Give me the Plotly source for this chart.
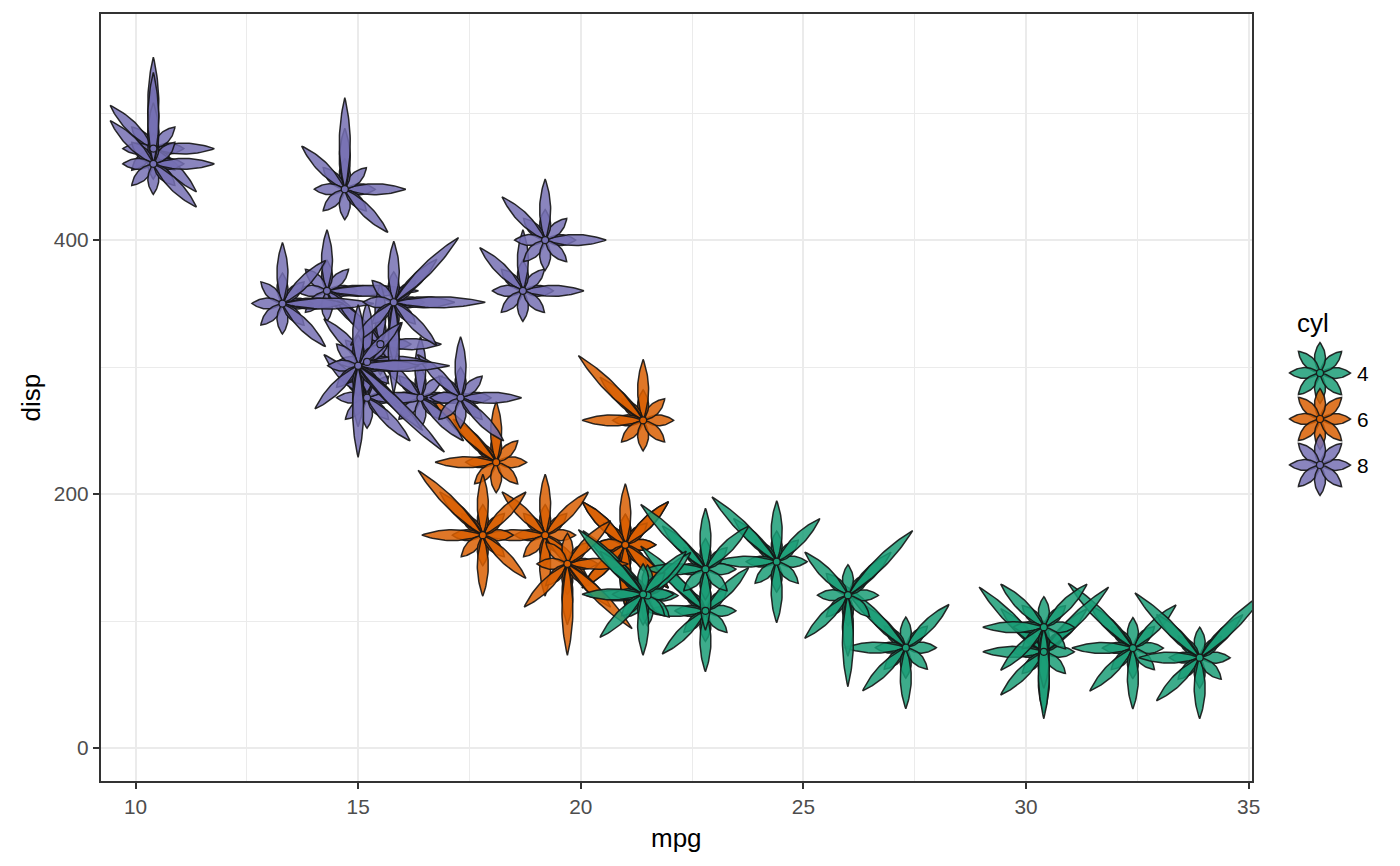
import numpy as np
import plotly.graph_objects as go

# mtcars: position of each glyph
cars = ["Mazda RX4", "Mazda RX4 Wag", "Datsun 710", "Hornet 4 Drive", "Hornet Sportabout",
        "Valiant", "Duster 360", "Merc 240D", "Merc 230", "Merc 280", "Merc 280C",
        "Merc 450SE", "Merc 450SL", "Merc 450SLC", "Cadillac Fleetwood",
        "Lincoln Continental", "Chrysler Imperial", "Fiat 128", "Honda Civic",
        "Toyota Corolla", "Toyota Corona", "Dodge Challenger", "AMC Javelin",
        "Camaro Z28", "Pontiac Firebird", "Fiat X1-9", "Porsche 914-2", "Lotus Europa",
        "Ford Pantera L", "Ferrari Dino", "Maserati Bora", "Volvo 142E"]
mpg = [21.0, 21.0, 22.8, 21.4, 18.7, 18.1, 14.3, 24.4, 22.8, 19.2, 17.8, 16.4, 17.3, 15.2,
       10.4, 10.4, 14.7, 32.4, 30.4, 33.9, 21.5, 15.5, 15.2, 13.3, 19.2, 27.3, 26.0, 30.4,
       15.8, 19.7, 15.0, 21.4]
disp = [160.0, 160.0, 108.0, 258.0, 360.0, 225.0, 360.0, 146.7, 140.8, 167.6, 167.6,
        275.8, 275.8, 275.8, 472.0, 460.0, 440.0, 78.7, 75.7, 71.1, 120.1, 318.0, 304.0,
        350.0, 400.0, 79.0, 120.3, 95.1, 351.0, 145.0, 301.0, 121.0]
cyl = [6, 6, 4, 6, 8, 6, 8, 4, 4, 6, 6, 8, 8, 8, 8, 8, 8, 4, 4, 4, 4, 8, 8, 8, 8, 4, 4, 4,
       8, 6, 8, 4]

# petal sizes (number of stacked leaves) read off the glyphs,
# counter-clockwise starting from the right: hp, drat, wt, qsec, vs, am, gear, carb
hp_n = [1, 1, 1, 1, 2, 1, 3, 1, 1, 1, 1, 2, 2, 2, 2, 2, 2, 1, 1, 1, 1, 2, 2, 3, 2, 1, 1, 1, 3, 2, 3, 1]
drat_n = [2, 2, 2, 1, 1, 1, 1, 2, 2, 2, 2, 1, 1, 1, 1, 1, 1, 2, 3, 3, 2, 1, 1, 2, 1, 2, 3, 2, 3, 2, 2, 2]
wt_n = [1, 2, 1, 2, 2, 2, 2, 2, 2, 2, 2, 2, 2, 2, 3, 3, 3, 1, 1, 1, 1, 2, 2, 2, 2, 1, 1, 1, 2, 1, 2, 1]
qsec_n = [2, 2, 3, 3, 2, 3, 1, 3, 3, 2, 3, 2, 2, 2, 2, 2, 2, 3, 3, 3, 3, 2, 2, 1, 2, 3, 2, 2, 1, 1, 1, 3]
vs_n = [1, 1, 2, 2, 1, 2, 1, 2, 2, 2, 2, 1, 1, 1, 1, 1, 1, 2, 2, 2, 2, 1, 1, 1, 1, 2, 1, 2, 1, 1, 1, 2]
am_n = [2, 2, 2, 1, 1, 1, 1, 1, 1, 1, 1, 1, 1, 1, 1, 1, 1, 2, 2, 2, 1, 1, 1, 1, 1, 2, 2, 2, 2, 2, 2, 2]
gear_n = [2, 2, 2, 1, 1, 1, 1, 2, 2, 2, 2, 1, 1, 1, 1, 1, 1, 2, 2, 2, 1, 1, 1, 1, 1, 2, 3, 3, 3, 3, 3, 2]
carb_n = [2, 2, 1, 1, 1, 1, 2, 1, 1, 2, 2, 2, 2, 2, 2, 2, 2, 1, 1, 1, 1, 1, 1, 2, 1, 1, 1, 1, 2, 3, 4, 1]

cyl_levels = [4, 6, 8]
cyl_colors = {4: (27, 158, 119), 6: (217, 95, 2), 8: (117, 112, 179)}

# layout, in page pixels (the page body adds an 8px offset)
OFF = 8
W, H = 1384, 850
ML, MR, MT, MB = 101 - OFF, 0, 14 - OFF, H - (781 - OFF)
plot_w, plot_h = W - ML - MR, H - MT - MB
panel_w = 1151
x_range = [9.225, 35.075]
y_range = [-26, 578]
sx = panel_w / (x_range[1] - x_range[0])   # px per mpg
sy = plot_h / (y_range[1] - y_range[0])    # px per disp

PETAL_LEN = 30.5
PETAL_W = 11.0
angles = np.deg2rad(np.arange(8) * 45.0)


def rgba(c, a):
    return f"rgba({c[0]},{c[1]},{c[2]},{a})"


def petal(cx, cy, k, ang, kx, ky):
    t = np.linspace(0, 1, 30)
    half = np.sin(np.pi * t) ** 0.85
    u = np.concatenate([t, t[::-1]]) * k * PETAL_LEN
    v = np.concatenate([half, -half[::-1]]) * PETAL_W / 2
    c, s = np.cos(ang), np.sin(ang)
    return cx + (u * c - v * s) / kx, cy + (u * s + v * c) / ky


def flower(fig, cx, cy, counts, col, kx, ky, xa="x", ya="y"):
    for d, n in enumerate(counts):
        for k in range(1, n + 1):
            px, py = petal(cx, cy, k, angles[d], kx, ky)
            fig.add_trace(go.Scatter(
                x=px, y=py, xaxis=xa, yaxis=ya, mode="lines", fill="toself",
                fillcolor=rgba(col, 0.85),
                line=dict(color="rgba(20,20,20,0.9)", width=1.5),
                hoverinfo="skip", showlegend=False))


fig = go.Figure()

petals = list(zip(hp_n, drat_n, wt_n, qsec_n, vs_n, am_n, gear_n, carb_n))
for i in range(len(cars)):
    flower(fig, mpg[i], disp[i], petals[i], cyl_colors[cyl[i]], sx, sy)

fig.add_trace(go.Scatter(
    x=mpg, y=disp, mode="markers", hoverinfo="skip", showlegend=False,
    marker=dict(size=7, color=[rgba(cyl_colors[c], 1) for c in cyl],
                line=dict(color="#1a1a1a", width=1.2))))


def px_x(p):
    return (p - OFF - ML) / plot_w


def px_y(p):
    return (MT + plot_h - (p - OFF)) / plot_h


# legend keys, drawn on a pixel axis in the right margin
leg_x0 = 1270
key_x, key_y0, key_step = 1320, 373, 46
for j, c in enumerate(cyl_levels):
    ky_c = key_y0 + j * key_step
    flower(fig, key_x, ky_c, [1] * 8, cyl_colors[c], 1, -1, "x2", "y2")
    fig.add_trace(go.Scatter(
        x=[key_x], y=[ky_c], xaxis="x2", yaxis="y2", mode="markers",
        hoverinfo="skip", showlegend=False,
        marker=dict(size=7, color=rgba(cyl_colors[c], 1), line=dict(color="#1a1a1a", width=1.2))))

font = "Liberation Sans, Arial, Helvetica, sans-serif"
annotations = [
    dict(text="mpg", x=px_x(101 + panel_w / 2), y=px_y(838), xref="paper", yref="paper",
         showarrow=False, font=dict(size=26, color="black"), xanchor="center", yanchor="middle"),
    dict(text="disp", x=px_x(30), y=px_y(397.5), xref="paper", yref="paper",
         showarrow=False, textangle=-90, font=dict(size=26, color="black"),
         xanchor="center", yanchor="middle"),
    dict(text="cyl", x=px_x(1295), y=px_y(323), xref="paper", yref="paper", showarrow=False,
         font=dict(size=26, color="black"), xanchor="left", yanchor="middle"),
]
for j, c in enumerate(cyl_levels):
    annotations.append(dict(
        text=str(c), x=px_x(1355), y=px_y(key_y0 + j * key_step), xref="paper", yref="paper",
        showarrow=False, font=dict(size=20.8, color="black"), xanchor="left", yanchor="middle"))

axis_common = dict(
    showgrid=True, gridcolor="#EBEBEB", gridwidth=2.2, zeroline=False,
    showline=True, mirror=True, linecolor="#333333", linewidth=1.6,
    ticks="outside", ticklen=6.5, tickwidth=2, tickcolor="#333333",
    tickfont=dict(size=20.8, color="#4D4D4D"), automargin=False,
)

fig.update_layout(
    width=W, height=H,
    margin=dict(l=ML, r=MR, t=MT, b=MB),
    paper_bgcolor="white", plot_bgcolor="white",
    font=dict(family=font),
    xaxis=dict(domain=[0, panel_w / plot_w], range=x_range, tick0=0, dtick=5,
               minor=dict(dtick=2.5, showgrid=True, gridcolor="#EBEBEB", gridwidth=1.2),
               **axis_common),
    yaxis=dict(domain=[0, 1], range=y_range, tick0=0, dtick=200,
               minor=dict(dtick=100, showgrid=True, gridcolor="#EBEBEB", gridwidth=1.2),
               **axis_common),
    # legend axis works in page pixels
    xaxis2=dict(domain=[px_x(leg_x0), 1], range=[leg_x0, W + OFF], visible=False,
                fixedrange=True, anchor="y2"),
    yaxis2=dict(domain=[0, 1], range=[781, 14], visible=False, fixedrange=True,
                anchor="x2"),
    annotations=annotations,
)

fig.write_html("out.html")
